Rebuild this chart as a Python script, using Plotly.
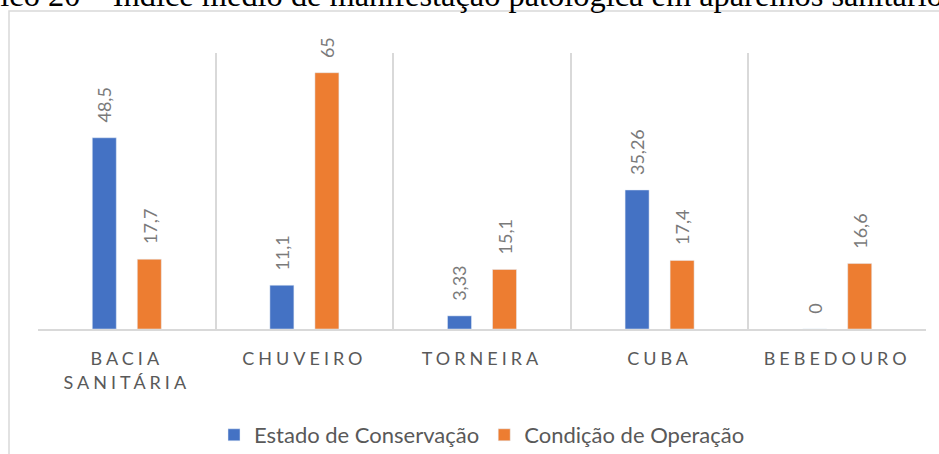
import plotly.graph_objects as go

# Data
categorias = ["BACIA<br>SANITÁRIA", "CHUVEIRO", "TORNEIRA", "CUBA", "BEBEDOURO"]
estado_conservacao = [48.5, 11.1, 3.33, 35.26, 0]
condicao_operacao = [17.7, 65, 15.1, 17.4, 16.6]
titulo = "Gráfico 20 – Índice médio de manifestação patológica em aparelhos sanitários"

AZUL = "#4472C4"
LARANJA = "#ED7D31"
CINZA_TEXTO = "#595959"
CINZA_ROTULO = "#7a7a7a"
CINZA_LINHA = "#d9d9d9"

W, H = 939, 454
ML, MR, MT, MB = 38, 13, 53, 125
BARGAP = 0.493
GROUPGAP = 0.467
Y_MAX = 70


def fmt(v):
    """Decimal comma, no trailing zeros."""
    return f"{v:g}".replace(".", ",")


fig = go.Figure()
fig.add_trace(go.Bar(name="Estado de Conservação", x=categorias, y=estado_conservacao,
                     marker_color=AZUL))
fig.add_trace(go.Bar(name="Condição de Operação", x=categorias, y=condicao_operacao,
                     marker_color=LARANJA))

# rotated value labels above each bar
desloc = (1 - BARGAP) / 4
for i in range(len(categorias)):
    for serie, sinal in ((estado_conservacao, -1), (condicao_operacao, 1)):
        fig.add_annotation(x=i + sinal * desloc, y=serie[i], xref="x", yref="y",
                           text=fmt(serie[i]), textangle=-90, showarrow=False,
                           yanchor="bottom", xanchor="center", yshift=13,
                           font=dict(family="Lato", size=18, color=CINZA_ROTULO))

pw, ph = W - ML - MR, H - MT - MB

# title, partially above the page edge
fig.add_annotation(x=(448 - ML) / pw, y=1, xref="paper", yref="paper", text=titulo,
                   showarrow=False, yanchor="bottom", xanchor="center", yshift=38,
                   font=dict(family="Liberation Serif", size=32.4, color="black"))

# chart frame
fig.add_shape(type="rect", xref="paper", yref="paper",
              x0=(9 - ML) / pw, x1=(W + 10 - ML) / pw,
              y0=-(H + 10 - MT - ph) / ph, y1=(H - MB - 11) / ph,
              line=dict(color=CINZA_LINHA, width=1.5), layer="below")

fig.update_layout(
    width=W, height=H,
    margin=dict(l=ML, r=MR, t=MT, b=MB, autoexpand=False),
    paper_bgcolor="white", plot_bgcolor="white",
    barmode="group", bargap=BARGAP, bargroupgap=GROUPGAP,
    font=dict(family="Lato", color=CINZA_TEXTO),
    legend=dict(orientation="h", x=0.5, xanchor="center", y=-0.384, yanchor="middle",
                font=dict(family="Lato", size=22, color=CINZA_TEXTO),
                itemwidth=30, traceorder="normal"),
    xaxis=dict(tickson="boundaries", showgrid=True, gridcolor=CINZA_LINHA, gridwidth=1.5,
               showline=True, linecolor=CINZA_LINHA, linewidth=1.5, ticks="",
               tickfont=dict(family="Lato", size=18, color=CINZA_TEXTO),
               ticklabelstandoff=13, automargin=False, range=[-0.5, 4.5]),
    yaxis=dict(range=[0, Y_MAX], showgrid=False, showticklabels=False, zeroline=False,
               showline=False, automargin=False),
)

post = """
document.querySelectorAll('.xtick text').forEach(function(t){
  t.style.letterSpacing = '4px';
});
"""
fig.write_html("out.html", post_script=post)
